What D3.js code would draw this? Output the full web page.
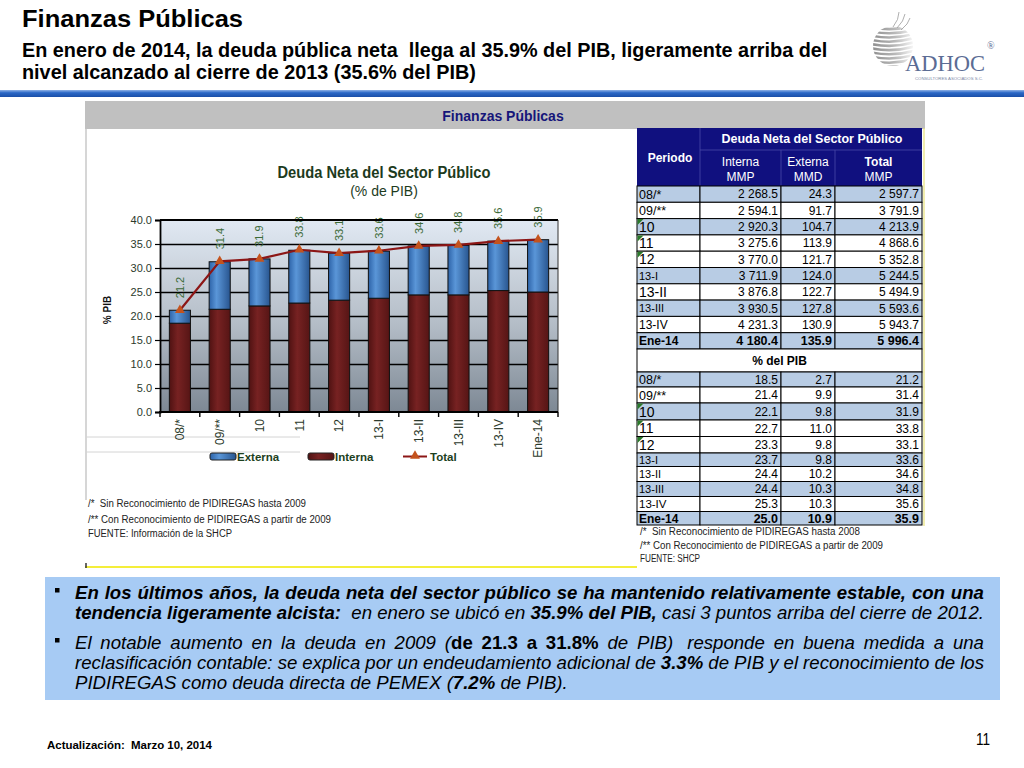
<!DOCTYPE html>
<html><head><meta charset="utf-8">
<script src="https://cdn.jsdelivr.net/npm/d3@7"></script>
<style>body{margin:0;background:#fff}svg{display:block}</style>
</head><body>
<svg id="c" width="1024" height="768"></svg>
<script>
// ---------------- DATA ----------------
const categories = ["08/*","09/**","10","11","12","13-I","13-II","13-III","13-IV","Ene-14"];
const interna = [18.5,21.4,22.1,22.7,23.3,23.7,24.4,24.4,25.3,25.0];
const externa = [2.7,9.9,9.8,11.0,9.8,9.8,10.2,10.3,10.3,10.9];
const total = [21.2,31.4,31.9,33.8,33.1,33.6,34.6,34.8,35.6,35.9];
const yTicks = [0,5,10,15,20,25,30,35,40];
const seriesNames = ["Externa","Interna","Total"];

const mmpInterna = [2268.5,2594.1,2920.3,3275.6,3770.0,3711.9,3876.8,3930.5,4231.3,4180.4];
const mmdExterna = [24.3,91.7,104.7,113.9,121.7,124.0,122.7,127.8,130.9,135.9];
const mmpTotal = [2597.7,3791.9,4213.9,4868.6,5352.8,5244.5,5494.9,5593.6,5943.7,5996.4];
const pibInterna = [18.5,21.4,22.1,22.7,23.3,23.7,24.4,24.4,25.3,25.0];
const pibExterna = [2.7,9.9,9.8,11.0,9.8,9.8,10.2,10.3,10.3,10.9];
const pibTotal = [21.2,31.4,31.9,33.8,33.1,33.6,34.6,34.8,35.6,35.9];

// --------------- STYLE ----------------
const SANS = "'Liberation Sans', Arial, sans-serif";
const SERIF = "'Liberation Serif','Times New Roman',serif";

const svg = d3.select('#c');
const defs = svg.append('defs');
function lg(id, stops, vertical){
  const g = defs.append('linearGradient').attr('id', id)
    .attr('x1',0).attr('y1',0).attr('x2', vertical?0:1).attr('y2', vertical?1:0);
  stops.forEach(([o,c])=>g.append('stop').attr('offset',o).attr('stop-color',c));
}
lg('plotBg',[['0%','#e1e9f3'],['55%','#b3bcc6'],['100%','#7d8894']],true);
lg('blueBar',[['0%','#2d63a8'],['35%','#5a96d8'],['100%','#28558f']]);
lg('redBar',[['0%','#4f1212'],['40%','#772222'],['100%','#561515']]);
lg('rule',[['0%','#8fb2e6'],['40%','#2a67c6'],['100%','#1a4fa8']],true);

const meas = svg.append('text').attr('x',-1000).attr('y',-1000);
function measure(str, fam, size, weight, style){
  meas.attr('font-family',fam).attr('font-size',size).attr('font-weight',weight||'normal')
      .attr('font-style',style||'normal').style('white-space','pre').text(str);
  return meas.node().getComputedTextLength();
}

// ---------------- HEADER ----------------
svg.append('text').attr('x',22).attr('y',27).attr('font-family',SANS).attr('font-weight','bold')
  .attr('font-size',23).attr('fill','#000').attr('textLength',221).attr('lengthAdjust','spacingAndGlyphs')
  .text('Finanzas Públicas');
const sub1 = 'En enero de 2014, la deuda pública neta  llega al 35.9% del PIB, ligeramente arriba del';
const sub2 = 'nivel alcanzado al cierre de 2013 (35.6% del PIB)';
const SUBFS = 20.5;
const subSx = 806 / measure(sub1, SANS, SUBFS, 'bold');
[[sub1,57],[sub2,79]].forEach(([t,y])=>{
  svg.append('text').attr('transform',`translate(22,${y}) scale(${subSx},1)`).attr('font-family',SANS).attr('font-weight','bold')
    .attr('font-size',SUBFS).attr('fill','#000').style('white-space','pre').text(t);
});
svg.append('rect').attr('x',0).attr('y',90).attr('width',1024).attr('height',7).attr('fill','url(#rule)');

// logo
const logo = svg.append('g');
defs.append('clipPath').attr('id','sph').append('circle').attr('cx',893).attr('cy',46).attr('r',20);
lg('sphG',[['0%','#8a8a8a'],['55%','#b9b9b9'],['100%','#ffffff']]);
const sg = logo.append('g').attr('clip-path','url(#sph)');
d3.range(27,68,4.2).forEach((yy)=>{
  sg.append('path').attr('d',`M870,${yy} Q893,${yy+5} 916,${yy-2}`).attr('stroke','url(#sphG)')
    .attr('stroke-width',2.6).attr('fill','none');
});
[[893,27,899,12],[897,28,905,14],[901,30,910,18]].forEach(([a,b,c,d])=>
  logo.append('path').attr('d',`M${a},${b} Q${(a+c)/2+3},${(b+d)/2} ${c},${d}`).attr('stroke','#9a9a9a').attr('stroke-width',0.8).attr('fill','none'));
logo.append('text').attr('x',905).attr('y',71).attr('font-family',SERIF).attr('font-size',23)
  .attr('fill','#5b6c94').attr('textLength',80).attr('lengthAdjust','spacingAndGlyphs').text('ADHOC');
logo.append('text').attr('x',987).attr('y',49).attr('font-family',SERIF).attr('font-size',10).attr('fill','#5b6c94').text('®');
logo.append('text').attr('x',915).attr('y',80).attr('font-family',SANS).attr('font-size',4.2)
  .attr('fill','#7a86a6').attr('textLength',68).attr('lengthAdjust','spacingAndGlyphs').text('CONSULTORES ASOCIADOS S.C.');

// ---------------- PANEL ----------------
svg.append('rect').attr('x',85).attr('y',101).attr('width',840).attr('height',28).attr('fill','#c0c0c0');
svg.append('text').attr('x',503).attr('y',121).attr('text-anchor','middle').attr('font-family',SANS)
  .attr('font-weight','bold').attr('font-size',14).attr('fill','#16167a').text('Finanzas Públicas');
svg.append('line').attr('x1',86).attr('x2',86).attr('y1',129).attr('y2',500).attr('stroke','#c8c8c8').attr('stroke-width',1.5);
[437,452].forEach(yy=>svg.append('line').attr('x1',86).attr('x2',300).attr('y1',yy).attr('y2',yy).attr('stroke','#d4d4d4'));
svg.append('line').attr('x1',85).attr('x2',637).attr('y1',567).attr('y2',567).attr('stroke','#f4ee3a').attr('stroke-width',2);
svg.append('line').attr('x1',86).attr('x2',86).attr('y1',563).attr('y2',568).attr('stroke','#333').attr('stroke-width',1.5);

// ---------------- CHART ----------------
const x = d3.scaleBand().domain(categories).range([160,558]).paddingInner(0.47).paddingOuter(0.235);
const y = d3.scaleLinear().domain([0,40]).range([412,220]);
const chart = svg.append('g');
const TXT = '#2c3a2c';
chart.append('text').attr('x',384).attr('y',178).attr('text-anchor','middle').attr('font-family',SANS)
  .attr('font-weight','bold').attr('font-size',16).attr('fill','#1d3b1d').attr('textLength',213).attr('lengthAdjust','spacingAndGlyphs')
  .text('Deuda Neta del Sector Público');
chart.append('text').attr('x',384).attr('y',196).attr('text-anchor','middle').attr('font-family',SANS)
  .attr('font-size',14).attr('fill','#1d3b1d').text('(% de PIB)');

chart.append('rect').attr('x',160).attr('y',y(40)).attr('width',398).attr('height',y(0)-y(40)).attr('fill','url(#plotBg)');
chart.append('g').attr('transform','translate(160,0)')
  .call(d3.axisLeft(y).tickValues(yTicks.filter(d=>d>0 && d<40)).tickSize(-398).tickFormat(''))
  .call(g=>{g.select('.domain').remove(); g.selectAll('line').attr('stroke','#000').attr('stroke-width',1.6);});

const stack = categories.map((c,i)=>({c, i, interna:interna[i], externa:externa[i]}));
const bw = x.bandwidth();
chart.append('g').selectAll('rect').data(stack).join('rect')
  .attr('x',d=>x(d.c)).attr('width',bw).attr('y',d=>y(d.interna)).attr('height',d=>y(0)-y(d.interna))
  .attr('fill','url(#redBar)').attr('stroke','#111').attr('stroke-width',1);
chart.append('g').selectAll('rect').data(stack).join('rect')
  .attr('x',d=>x(d.c)).attr('width',bw).attr('y',d=>y(d.interna+d.externa)).attr('height',d=>y(d.interna)-y(d.interna+d.externa))
  .attr('fill','url(#blueBar)').attr('stroke','#111').attr('stroke-width',1);

const line = d3.line().x((d,i)=>x(categories[i])+bw/2).y(d=>y(d));
chart.append('path').datum(total).attr('d',line).attr('fill','none').attr('stroke','#8c1616').attr('stroke-width',2.2);
const tri = d3.symbol().type(d3.symbolTriangle).size(42);
chart.append('g').selectAll('path').data(total).join('path')
  .attr('transform',(d,i)=>`translate(${x(categories[i])+bw/2},${y(d)})`).attr('d',tri)
  .attr('fill','#c4531d');
chart.append('g').selectAll('text').data(total).join('text')
  .attr('transform',(d,i)=>`translate(${x(categories[i])+bw/2},${y(d)-12}) rotate(-90)`)
  .attr('dy','0.35em').attr('font-family',SANS).attr('font-size',11).attr('fill','#3b6a37')
  .text(d=>d3.format('.1f')(d));
chart.append('line').attr('x1',160).attr('x2',558).attr('y1',y(40)).attr('y2',y(40)).attr('stroke','#000').attr('stroke-width',1.8);
chart.append('line').attr('x1',558).attr('x2',558).attr('y1',y(40)).attr('y2',y(0)).attr('stroke','#333').attr('stroke-width',1);
chart.append('g').attr('transform','translate(160,0)')
  .call(d3.axisLeft(y).tickValues(yTicks).tickSize(5).tickPadding(3).tickFormat(d3.format('.1f')))
  .call(g=>{g.select('.domain').attr('stroke','#000').attr('stroke-width',1.8);
    g.selectAll('line').attr('stroke','#000').attr('stroke-width',1.2);
    g.selectAll('text').attr('font-family',SANS).attr('font-size',11).attr('fill',TXT);});
chart.append('line').attr('x1',159).attr('x2',558).attr('y1',y(0)).attr('y2',y(0)).attr('stroke','#000').attr('stroke-width',2);
const step = x.step();
const bounds = categories.map(c=>x(c)-step*x.paddingInner()/2).concat([558]);
chart.append('g').selectAll('line').data(bounds).join('line')
  .attr('x1',d=>d).attr('x2',d=>d).attr('y1',y(0)).attr('y2',y(0)+5).attr('stroke','#000').attr('stroke-width',1.4);
chart.append('g').selectAll('text').data(categories).join('text')
  .attr('transform',d=>`translate(${x(d)+bw/2},419) rotate(-90)`).attr('dy','0.35em').attr('text-anchor','end')
  .attr('font-family',SANS).attr('font-size',12).attr('fill',TXT).text(d=>d);
chart.append('text').attr('transform','translate(107,310) rotate(-90)').attr('text-anchor','middle').attr('dy','0.35em')
  .attr('font-family',SANS).attr('font-weight','bold').attr('font-size',10).attr('fill','#111').text('% PIB');

// legend
const leg = chart.append('g');
leg.append('rect').attr('x',210).attr('y',453).attr('width',26).attr('height',7).attr('rx',2).attr('fill','url(#blueBar)').attr('stroke','#222');
leg.append('rect').attr('x',308).attr('y',453).attr('width',26).attr('height',7).attr('rx',2).attr('fill','url(#redBar)').attr('stroke','#222');
leg.append('line').attr('x1',403).attr('x2',427).attr('y1',456.5).attr('y2',456.5).attr('stroke','#8c1616').attr('stroke-width',2);
leg.append('path').attr('transform','translate(415,456)').attr('d',tri).attr('fill','#c4531d');
[[seriesNames[0],237],[seriesNames[1],335],[seriesNames[2],430]].forEach(([t,xx])=>
  leg.append('text').attr('x',xx).attr('y',461).attr('font-family',SANS).attr('font-weight','bold')
   .attr('font-size',11.5).attr('fill','#1d3f1d').text(t));

// chart footnotes
[['/*  Sin Reconocimiento de PIDIREGAS hasta 2009',507,218],['/** Con Reconocimiento de PIDIREGAS a partir de 2009',523,243],['FUENTE: Información de la SHCP',537,144]]
 .forEach(([t,yy,w])=>svg.append('text').attr('x',88).attr('y',yy).attr('font-family',SANS).attr('font-size',10)
   .attr('fill','#222').attr('textLength',w).attr('lengthAdjust','spacingAndGlyphs').style('white-space','pre').text(t));

// ---------------- TABLE ----------------
const T = svg.append('g');
const cx = [637,700,781,835,922];
const NAVY = '#10107f', LBLUE = '#b8cce4';
T.append('rect').attr('x',cx[0]).attr('y',128).attr('width',cx[4]-cx[0]).attr('height',58).attr('fill',NAVY);
T.append('line').attr('x1',cx[1]).attr('x2',cx[4]).attr('y1',150).attr('y2',150).attr('stroke','#4a4aa8').attr('stroke-width',0.8);
[cx[1],cx[2],cx[3]].forEach((xx,i)=>T.append('line').attr('x1',xx).attr('x2',xx).attr('y1',i==0?128:150).attr('y2',186).attr('stroke','#4a4aa8').attr('stroke-width',0.8));
T.append('text').attr('x',(cx[1]+cx[4])/2+1).attr('y',143).attr('text-anchor','middle').attr('font-family',SANS)
  .attr('font-weight','bold').attr('font-size',12).attr('fill','#fff').attr('textLength',181).attr('lengthAdjust','spacingAndGlyphs').text('Deuda Neta del Sector Público');
T.append('text').attr('x',670).attr('y',162).attr('text-anchor','middle').attr('font-family',SANS)
  .attr('font-weight','bold').attr('font-size',12).attr('fill','#fff').text('Periodo');
[['Interna','MMP',740.5,'normal'],['Externa','MMD',808,'normal'],['Total','MMP',878.5,'bold']].forEach(([a,b,xx,w])=>{
  T.append('text').attr('x',xx).attr('y',166).attr('text-anchor','middle').attr('font-family',SANS).attr('font-weight',w).attr('font-size',12).attr('fill','#fff').text(a);
  T.append('text').attr('x',xx).attr('y',181).attr('text-anchor','middle').attr('font-family',SANS).attr('font-size',12).attr('fill','#fff').text(b);
});
const fmtN = v => d3.format(',.1f')(v).replace(/,/g,' ');
const rowFill = [1,0,1,0,0,1,0,1,0,1];
const commentRows = [2,3,4];
const block1Label = [12.5,12.5,14,14,14,11,14,11,12,12];
const block2Label = [12.5,12.5,14,14,14,11,11,11,11.5,12];
const block1H = categories.map(()=>16.3);
const block2H = [15,16,17,16.5,16.5,13.5,15,15,15,13.5];
function block(top, hs, labSizes, a, b, c){
  let yy = top;
  categories.forEach((p,i)=>{
    const h = hs[i]; const last = i===categories.length-1;
    const g = T.append('g');
    for(let k=0;k<4;k++){
      g.append('rect').attr('x',cx[k]).attr('y',yy).attr('width',cx[k+1]-cx[k]).attr('height',h)
        .attr('fill',rowFill[i]?LBLUE:'#fff').attr('stroke','#000').attr('stroke-width',1);
    }
    if(commentRows.includes(i)) g.append('path').attr('d',`M${cx[0]+0.5},${yy+0.5} l6,0 l-6,6 Z`).attr('fill','#2b7a2b');
    const base = yy + h/2;
    g.append('text').attr('x',cx[0]+2).attr('y',base).attr('dy','0.36em').attr('font-family',SANS)
      .attr('font-weight',last?'bold':'normal').attr('font-size',labSizes[i]).attr('fill','#000').text(p);
    [a[i],b[i],c[i]].forEach((v,k)=>g.append('text').attr('x',cx[k+2]-3).attr('y',base).attr('dy','0.36em')
      .attr('text-anchor','end').attr('font-family',SANS).attr('font-weight',last?'bold':'normal')
      .attr('font-size',last?12.5:12).attr('fill','#000').text(fmtN(v)));
    yy += h;
  });
  return yy;
}
const end1 = block(186, block1H, block1Label, mmpInterna, mmdExterna, mmpTotal);
T.append('rect').attr('x',cx[0]).attr('y',end1).attr('width',cx[4]-cx[0]).attr('height',372-end1).attr('fill','#fff').attr('stroke','#000');
T.append('text').attr('x',(cx[0]+cx[4])/2).attr('y',(end1+372)/2).attr('dy','0.36em').attr('text-anchor','middle')
  .attr('font-family',SANS).attr('font-weight','bold').attr('font-size',12).attr('fill','#000').text('% del PIB');
block(372, block2H, block2Label, pibInterna, pibExterna, pibTotal);
T.append('line').attr('x1',924).attr('x2',924).attr('y1',128).attr('y2',526).attr('stroke','#e8e27a').attr('stroke-width',1.2);
[['/*  Sin Reconocimiento de PIDIREGAS hasta 2008',535,220],['/** Con Reconocimiento de PIDIREGAS a partir de 2009',549,243],['FUENTE: SHCP',562,60]]
 .forEach(([t,yy,w])=>svg.append('text').attr('x',640).attr('y',yy).attr('font-family',SANS).attr('font-size',10)
   .attr('fill','#222').attr('textLength',w).attr('lengthAdjust','spacingAndGlyphs').style('white-space','pre').text(t));

// ---------------- TEXT BOX ----------------
svg.append('rect').attr('x',45).attr('y',577).attr('width',955).attr('height',123).attr('fill','#a7cbf4');
const bodyLines = [
 {y:599, justify:true, bullet:true, runs:[["En los últimos años, la deuda neta del sector público se ha mantenido relativamente estable, con una","bi"]]},
 {y:619, justify:false, runs:[["tendencia ligeramente alcista:","bi"],["  en enero se ubicó en ","i"],["35.9% del PIB,","bi"],[" casi 3 puntos arriba del cierre de 2012.","i"]]},
 {y:649, justify:true, bullet:true, runs:[["El notable aumento en la deuda en 2009 (","i"],["de 21.3 a 31.8%","b"],[" de PIB)  responde en buena medida a una","i"]]},
 {y:669, justify:true, runs:[["reclasificación contable: se explica por un endeudamiento adicional de ","i"],["3.3%","bi"],[" de PIB y el reconocimiento de los","i"]]},
 {y:689, justify:false, runs:[["PIDIREGAS como deuda directa de PEMEX (","i"],["7.2%","bi"],[" de PIB).","i"]]}
];
const TX0 = 75, TX1 = 984;
function words(line){
  const chars=[]; line.runs.forEach(([t,s])=>{for(const ch of t) chars.push({ch,s});});
  const ws=[]; let cur=null, gap=0;
  chars.forEach(c=>{
    if(c.ch===' '){ if(cur){ws.push(cur);cur=null;} gap++; }
    else{
      if(!cur){cur={gap:ws.length?gap:0,parts:[]}; gap=0;}
      const last=cur.parts[cur.parts.length-1];
      if(last && last.s===c.s) last.t+=c.ch; else cur.parts.push({t:c.ch,s:c.s});
    }
  });
  if(cur) ws.push(cur);
  return ws;
}
const W = s => s.includes('b')?'bold':'normal', S = s => s.includes('i')?'italic':'normal';
function natural(line, fs){
  const sp = measure('a a',SANS,fs,'normal','italic')-measure('aa',SANS,fs,'normal','italic');
  const ws = words(line);
  let w=0, gaps=0;
  ws.forEach(wd=>{ wd.w = d3.sum(wd.parts,p=>measure(p.t,SANS,fs,W(p.s),S(p.s))); w+=wd.w + wd.gap*sp; if(wd.gap) gaps++; });
  return {ws, w, gaps, sp};
}
const BODYFS = 18;
const bodySx = (TX1-TX0) / natural(bodyLines[1],BODYFS).w;
const localW = (TX1-TX0)/bodySx;
const bodyG = svg.append('g').attr('transform',`translate(${TX0},0) scale(${bodySx},1)`);
bodyLines.forEach(line=>{
  const n = natural(line, BODYFS);
  const extra = line.justify && n.gaps ? (localW-n.w)/n.gaps : 0;
  let xx = 0;
  n.ws.forEach(wd=>{
    if(wd.gap) xx += wd.gap*n.sp + extra;
    wd.parts.forEach(p=>{
      bodyG.append('text').attr('x',xx).attr('y',line.y).attr('font-family',SANS).attr('font-size',BODYFS)
        .attr('font-weight',W(p.s)).attr('font-style',S(p.s)).attr('fill','#000').text(p.t);
      xx += measure(p.t,SANS,BODYFS,W(p.s),S(p.s));
    });
  });
  if(line.bullet) svg.append('rect').attr('x',55).attr('y',line.y-11).attr('width',4.5).attr('height',4.5).attr('fill','#000');
});

// ---------------- FOOTER ----------------
svg.append('text').attr('x',47).attr('y',749).attr('font-family',SANS).attr('font-weight','bold').attr('font-size',11.5)
  .attr('fill','#000').attr('textLength',165).attr('lengthAdjust','spacingAndGlyphs').style('white-space','pre').text('Actualización:  Marzo 10, 2014');
svg.append('text').attr('transform','translate(976,745) scale(0.8,1)').attr('font-family',SANS).attr('font-size',17).attr('fill','#000').text('11');
meas.remove();
</script>
</body></html>
